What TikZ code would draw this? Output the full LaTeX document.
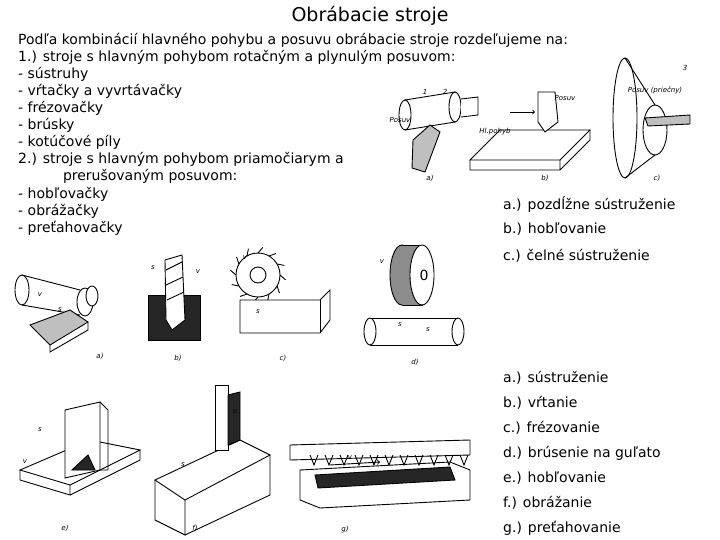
\documentclass[tikz,border=0pt]{standalone}
\usepackage{fontspec}
\setmainfont{DejaVu Sans}
\begin{document}
\begin{tikzpicture}[x=1pt,y=-1pt,
  txt/.style={anchor=west,inner sep=0pt,font=\fontsize{14}{16}\selectfont},
  lab/.style={inner sep=0pt,font=\fontsize{7}{8}\selectfont\itshape},
  sk/.style={draw=black,line width=0.9pt},
  dk/.style={fill=black!85},
  gr/.style={fill=black!25}]
\useasboundingbox (0,0) rectangle (720,540);
\node[inner sep=0pt,font=\fontsize{19}{21}\selectfont] (title) at (370,16) {Obrábacie stroje};
\foreach \t [count=\i from 0] in {Podľa kombinácií hlavného pohybu a posuvu obrábacie stroje rozdeľujeme na:,
1.) stroje s hlavným pohybom rotačným a plynulým posuvom:,- sústruhy,- vŕtačky a vyvrtávačky,- frézovačky,- brúsky,- kotúčové píly,
2.) stroje s hlavným pohybom priamočiarym a,\hspace{3.2em}prerušovaným posuvom:,- hobľovačky,- obrážačky,- preťahovačky}
  \node[txt] (l\i) at (18,{40+17.1*\i}) {\t};
\foreach \t/\y [count=\i] in {a.) pozdĺžne sústruženie/204,b.) hobľovanie/229,c.) čelné sústruženie/256,
 a.) sústruženie/378,b.) vŕtanie/403,c.) frézovanie/428,d.) brúsenie na guľato/453,e.) hobľovanie/478,f.) obrážanie/503,g.) preťahovanie/528}
  \node[txt] (r\i) at (503,\y) {\t};
% ---- top right figure
\draw[sk] (405,100) -- (455,92) (405,130) -- (455,122);
\draw[sk] (405,115) ellipse (6 and 15);
\draw[sk,fill=white] (455,107) ellipse (6 and 15);
\draw[sk,fill=white] (461,99) -- (478,97) -- (478,115) -- (461,117);
\draw[sk,gr] (413,140) -- (430,125) -- (440,132) -- (425,172) -- (412,168) -- cycle;
\node[lab] (ta) at (430,178) {a)};
\node[lab] at (425,92) {1}; \node[lab] at (445,92) {2};
\node[lab] at (400,120) {Posuv};
\draw[sk] (500,130) -- (590,130) -- (560,160) -- (470,160) -- cycle;
\draw[sk] (470,160) -- (470,170) -- (560,170) -- (560,160) (560,170) -- (590,140) -- (590,130);
\draw[sk,fill=white] (538,92) -- (555,92) -- (558,122) -- (545,132) -- (538,122) -- cycle;
\draw[sk,->] (510,112) -- (535,112);
\node[lab] at (565,98) {Posuv}; \node[lab] at (495,132) {Hl.pohyb};
\node[lab] (tb) at (545,178) {b)};
\draw[sk] (625,118) ellipse (12 and 60);
\draw[sk] (655,130) ellipse (12 and 25);
\draw[sk] (625,58) -- (655,105) (625,178) -- (655,155);
\draw[sk,gr] (645,118) -- (690,115) -- (690,124) -- (648,126) -- cycle;
\node[lab] at (655,90) {Posuv (priečny)};
\node[lab] at (685,68) {3};
\node[lab] (tc) at (657,178) {c)};
% ---- middle row
\draw[sk] (22,275) -- (80,290) (22,305) -- (80,315);
\draw[sk] (22,290) ellipse (7 and 15);
\draw[sk,fill=white] (85,302) ellipse (8 and 14);
\draw[sk,fill=white] (92,296) ellipse (6 and 10);
\draw[sk,gr] (30,325) -- (70,310) -- (88,322) -- (50,345) -- cycle;
\draw[sk] (50,345) -- (50,352) -- (88,330) -- (88,322);
\node[lab] at (40,295) {v}; \node[lab] at (60,310) {s};
\node[lab] (ma) at (100,356) {a)};
\draw[sk,dk] (148,295) -- (200,295) -- (200,340) -- (148,340) -- cycle;
\draw[sk,fill=white] (165,260) -- (182,255) -- (185,320) -- (172,330) -- (166,320) -- cycle;
\draw[sk] (166,270) -- (182,262) (166,285) -- (183,277) (167,300) -- (184,292);
\node[lab] at (153,268) {s}; \node[lab] at (198,272) {v};
\node[lab] (mb) at (178,358) {b)};
\draw[sk] (258,275) circle (22);
\foreach \a in {0,30,...,330} \draw[sk] ({258+22*cos(\a)},{275+22*sin(\a)}) -- ({258+28*cos(\a+10)},{275+28*sin(\a+10)});
\draw[sk,fill=white] (258,275) circle (8);
\draw[sk,fill=white] (240,300) -- (320,300) -- (330,290) -- (330,320) -- (320,333) -- (240,333) -- cycle;
\draw[sk] (320,300) -- (320,333);
\node[lab] at (258,312) {s}; \node[lab] at (245,258) {v};
\node[lab] (mc) at (283,358) {c)};
\draw[sk,fill=black!45] (402,275) ellipse (12 and 30);
\draw[sk,fill=black!45] (402,245) -- (422,245) -- (422,305) -- (402,305);
\draw[sk,fill=white] (422,275) ellipse (12 and 30);
\node[font=\fontsize{14}{14}\selectfont] at (424,275) {0};
\draw[sk] (370,318) -- (458,318) (370,345) -- (458,345);
\draw[sk,fill=white] (370,331.5) ellipse (6 and 13.5);
\draw[sk] (458,331.5) ellipse (6 and 13.5);
\node[lab] at (400,325) {s}; \node[lab] at (428,330) {s}; \node[lab] at (382,262) {v};
\node[lab] (md) at (415,362) {d)};
% ---- bottom row
\draw[sk] (20,470) -- (90,440) -- (140,450) -- (70,485) -- cycle;
\draw[sk] (20,470) -- (20,480) -- (70,495) -- (70,485) (70,495) -- (140,460) -- (140,450);
\draw[sk,fill=white] (65,410) -- (100,402) -- (100,470) -- (65,478) -- cycle;
\draw[sk] (100,402) -- (108,410) -- (108,470) -- (100,470);
\draw[sk,dk] (72,470) -- (88,455) -- (95,470) -- cycle;
\node[lab] at (40,430) {s}; \node[lab] at (25,462) {v};
\node[lab] (be) at (65,528) {e)};
\draw[sk] (155,480) -- (240,440) -- (270,455) -- (185,500) -- cycle;
\draw[sk] (155,480) -- (155,520) -- (185,535) -- (185,500) (185,535) -- (270,495) -- (270,455);
\draw[sk,fill=white] (215,385) -- (228,385) -- (228,450) -- (215,450) -- cycle;
\draw[sk,dk] (228,395) -- (240,392) -- (240,440) -- (228,445) -- cycle;
\node[lab] at (183,465) {s}; \node[lab] at (235,412) {v};
\node[lab] (bf) at (195,528) {f)};
\draw[sk] (300,470) -- (450,462) -- (470,470) -- (470,500) -- (320,508) -- (300,500) -- cycle;
\draw[sk,dk] (315,475) -- (450,467) -- (455,480) -- (318,488) -- cycle;
\draw[sk,fill=white] (290,445) -- (470,440) -- (470,455) -- (290,460) -- cycle;
\foreach \x in {310,325,...,460} \draw[sk] (\x,455) -- ++(4,10) -- ++(4,-10);
\draw[sk,->] (330,465) -- (380,462);
\node[lab] at (350,458) {v};
\node[lab] (bg) at (345,530) {g)};
\end{tikzpicture}
\end{document}
